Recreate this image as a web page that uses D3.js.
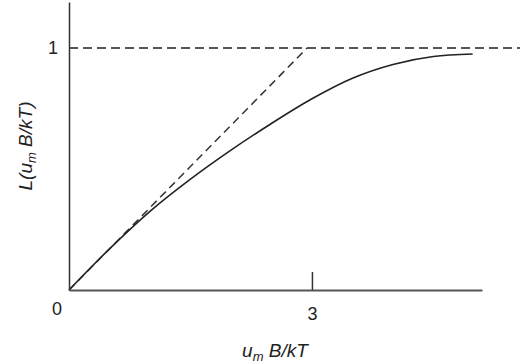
<!DOCTYPE html>
<html>
<head>
<meta charset="utf-8">
<script src="https://cdn.jsdelivr.net/npm/d3@7"></script>
<style>
	body { margin: 0; background: #fff; }
	svg text { font-family: "Liberation Sans", Arial, sans-serif; fill: #222; }
</style>
</head>
<body>
<script>
(function () {
	"use strict";

	var w = 520;
	var h = 364;

	// Curve (u_m B/kT, L)
	var curveX = [0, 0.5, 1.0, 1.5, 2.0, 2.5, 3.0, 3.5, 4.0, 4.5, 4.985];
	var curveY = [0, 0.17, 0.325, 0.458, 0.578, 0.688, 0.79, 0.875, 0.932, 0.965, 0.975];

	// Initial slope line and saturation line
	var slopeX = [0, 2.94];
	var slopeY = [0, 1];
	var satX = [0, 5.6];
	var satY = [1, 1];

	var xTicks = [3];
	var yTicks = [1];

	var svg = d3.select("body")
		.append("svg")
		.attr("width", w)
		.attr("height", h);

	// Scales
	var xScale = d3.scaleLinear()
		.domain([0, 5.1])
		.range([69, 482]);

	var yScale = d3.scaleLinear()
		.domain([0, 1.19])
		.range([290, 2]);

	var line = d3.line()
		.x((d) => xScale(d[0]))
		.y((d) => yScale(d[1]));

	// Dashed lines
	svg.append("path")
		.attr("d", line(d3.zip(satX, satY)))
		.attr("stroke", "#555")
		.attr("stroke-width", 2)
		.attr("stroke-dasharray", "9,5")
		.attr("fill", "none");

	svg.append("path")
		.attr("d", line(d3.zip(slopeX, slopeY)))
		.attr("stroke", "#333")
		.attr("stroke-width", 1.5)
		.attr("stroke-dasharray", "8,5")
		.attr("fill", "none");

	// Langevin curve
	svg.append("path")
		.attr("d", line.curve(d3.curveMonotoneX)(d3.zip(curveX, curveY)))
		.attr("stroke", "#222")
		.attr("stroke-width", 1.6)
		.attr("fill", "none");

	// Axes
	var xAxisGen = d3.axisBottom(xScale)
		.tickValues(xTicks)
		.tickFormat(d3.format("d"))
		.tickSizeInner(-18)
		.tickSizeOuter(0)
		.tickPadding(17);

	var yAxisGen = d3.axisLeft(yScale)
		.tickValues(yTicks)
		.tickFormat(d3.format("d"))
		.tickSize(0)
		.tickSizeOuter(0)
		.tickPadding(11);

	var xAxis = svg.append("g")
		.attr("transform", "translate(0," + yScale(0) + ")")
		.call(xAxisGen);
	xAxis.select(".domain").attr("stroke", "#555").attr("stroke-width", 2.2);
	xAxis.selectAll(".tick line").attr("stroke", "#333").attr("stroke-width", 1.5);
	xAxis.selectAll(".tick text")
		.attr("font-size", 18)
		.attr("font-family", "Liberation Sans, Arial, sans-serif")
		.attr("fill", "#222");

	var yAxis = svg.append("g")
		.attr("transform", "translate(" + xScale(0) + ",0)")
		.call(yAxisGen);
	yAxis.select(".domain").attr("stroke", "#333").attr("stroke-width", 1.5);
	yAxis.selectAll(".tick text")
		.attr("font-size", 18)
		.attr("font-family", "Liberation Sans, Arial, sans-serif")
		.attr("fill", "#222");

	// Origin label
	svg.append("text")
		.attr("x", xScale(0) - 12)
		.attr("y", yScale(0) + 25)
		.attr("text-anchor", "middle")
		.attr("font-size", 18)
		.text("0");

	// Axis titles
	var xt = svg.append("text")
		.attr("x", 275)
		.attr("y", 357)
		.attr("text-anchor", "middle")
		.attr("font-size", 19)
		.attr("font-style", "italic");
	xt.append("tspan").text("u");
	xt.append("tspan").attr("font-size", 13).attr("dy", 4).text("m");
	xt.append("tspan").attr("dy", -4).text(" B/kT");

	var yt = svg.append("text")
		.attr("transform", "translate(32,146) rotate(-90)")
		.attr("text-anchor", "middle")
		.attr("font-size", 19)
		.attr("font-style", "italic");
	yt.append("tspan").text("L(u");
	yt.append("tspan").attr("font-size", 13).attr("dy", 4).text("m");
	yt.append("tspan").attr("dy", -4).text(" B/kT)");
})();
</script>
</body>
</html>
